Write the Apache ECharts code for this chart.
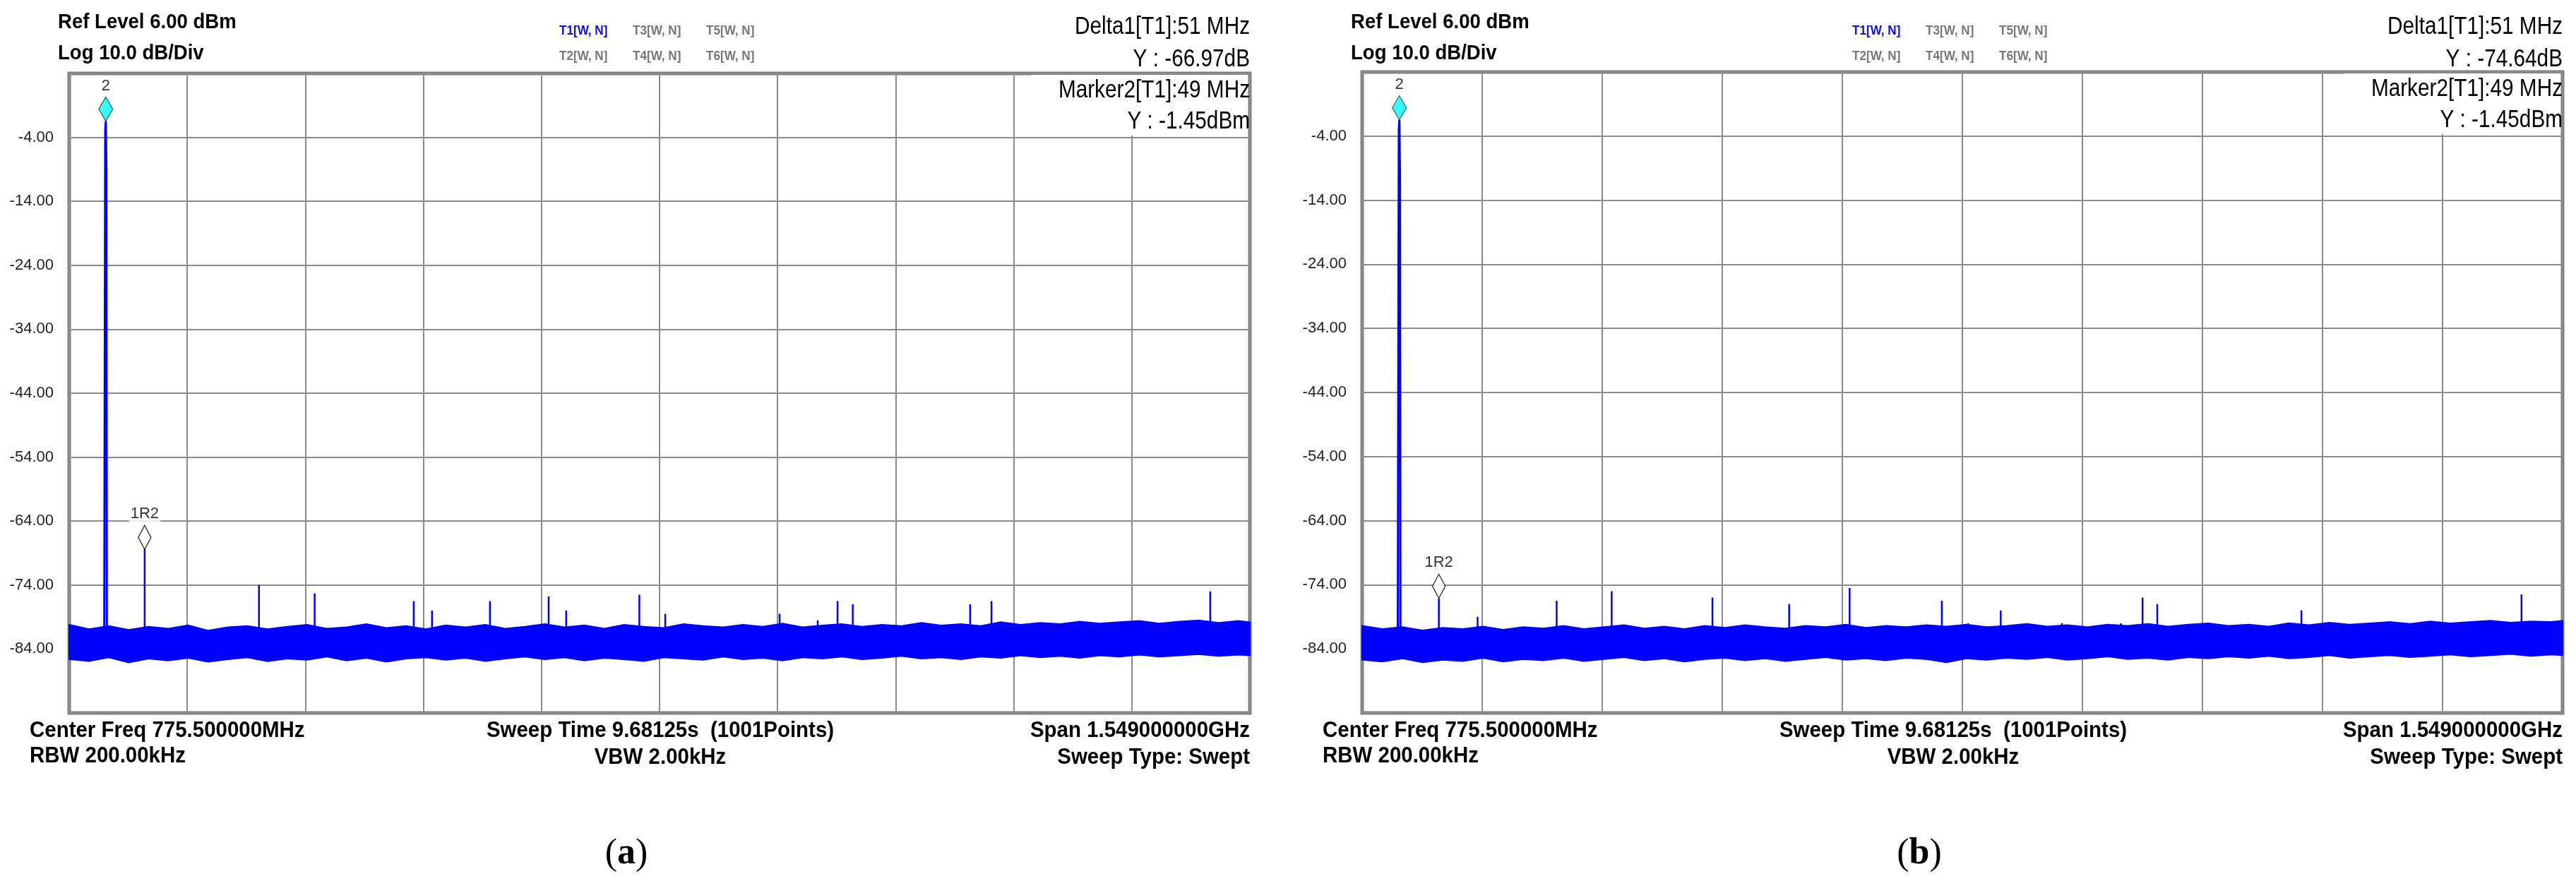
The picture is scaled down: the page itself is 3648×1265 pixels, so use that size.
<!DOCTYPE html>
<html><head><meta charset="utf-8">
<script src="https://cdn.jsdelivr.net/npm/echarts@6/dist/echarts.min.js"></script>
<style>html,body{margin:0;padding:0;background:#fff}#c{width:3648px;height:1265px}</style>
</head><body><div id="c"></div>
<script>
// ---- data (frequency in MHz, level in dBm) ----
const fStart = 1, fStop = 1550;
const yTicks = [-4, -14, -24, -34, -44, -54, -64, -74, -84];
const peakA = [[47, -82], [47.6, -43.3], [48.3, -3], [49, -1.45], [49.8, -8.6], [50.4, -82]];
const peakB = [[47, -82], [47.6, -43.5], [48.3, -3], [49, -1.45], [49.8, -9.5], [50.4, -82]];
const marker2 = [49, -1.45];
const marker1A = [100, -68.42];
const marker1B = [100, -76.09];
const spursA = [[100, -68.4], [151, -81], [202, -81.5], [250, -74], [323, -75.3], [453, -76.5], [477, -78], [553, -76.5], [630, -75.8], [653, -78], [749, -75.5], [783, -78.5], [933, -78.5], [983, -79.5], [1009, -76.5], [1029, -77], [1183, -77], [1211, -76.5], [1498, -75]];
const spursB = [[100, -76.1], [150, -79], [252, -76.5], [323, -75], [453, -76], [552, -77], [630, -74.5], [749, -76.5], [783, -80], [825, -78], [904, -80], [980, -80], [1008, -76], [1027, -77], [1213, -78], [1497, -75.5]];
const noiseFreq = [1,27,53,79,105,131,157,183,209,235,261,287,313,339,365,391,417,443,469,495,521,547,573,599,625,651,677,703,729,755,781,807,833,859,885,911,937,963,989,1015,1041,1067,1093,1119,1145,1171,1197,1223,1249,1275,1301,1327,1353,1379,1405,1431,1457,1483,1509,1535,1550];
const noiseHiA = [-80.2,-80.9,-80.4,-81.0,-80.5,-80.8,-80.3,-81.1,-80.6,-80.4,-80.9,-80.5,-80.2,-80.8,-80.6,-80.1,-80.7,-80.4,-80.9,-80.3,-80.6,-80.2,-80.8,-80.5,-80.1,-80.6,-80.3,-80.8,-80.2,-80.5,-80.7,-80.1,-80.4,-80.6,-80.2,-80.5,-80.0,-80.6,-80.3,-80.1,-80.5,-80.2,-80.4,-79.9,-80.3,-80.1,-80.4,-79.8,-80.2,-79.9,-80.1,-79.7,-80.0,-79.8,-79.6,-80.0,-79.7,-79.5,-79.9,-79.6,-79.8];
const noiseLoA = [-85.6,-85.9,-85.3,-86.1,-85.5,-85.8,-85.4,-86.0,-85.6,-85.3,-85.9,-85.5,-85.7,-85.2,-85.8,-85.4,-86.0,-85.5,-85.3,-85.7,-85.4,-85.9,-85.5,-85.2,-85.6,-85.3,-85.8,-85.4,-85.6,-85.9,-85.3,-85.5,-85.7,-85.2,-85.6,-85.4,-85.8,-85.3,-85.5,-85.2,-85.6,-85.4,-85.1,-85.5,-85.3,-85.6,-85.2,-85.4,-85.0,-85.3,-85.1,-85.4,-85.0,-85.2,-84.9,-85.2,-85.0,-84.8,-85.1,-84.9,-85.0];
const noiseHiB = [-80.4,-80.9,-80.6,-81.1,-80.7,-80.9,-80.5,-81.0,-80.6,-80.8,-80.4,-80.9,-80.6,-80.3,-80.8,-80.5,-80.9,-80.4,-80.7,-80.3,-80.6,-80.8,-80.4,-80.6,-80.2,-80.7,-80.4,-80.6,-80.3,-80.5,-80.2,-80.6,-80.4,-80.1,-80.5,-80.3,-80.6,-80.2,-80.4,-80.1,-80.5,-80.2,-80.0,-80.4,-80.2,-80.5,-80.0,-80.3,-79.9,-80.2,-80.0,-79.8,-80.1,-79.7,-80.0,-79.8,-79.6,-79.9,-79.7,-79.8,-79.6];
const noiseLoB = [-85.7,-86.0,-85.5,-86.1,-85.7,-85.9,-85.4,-86.0,-85.6,-85.8,-85.4,-85.9,-85.6,-85.3,-85.8,-85.5,-86.0,-85.6,-85.4,-85.8,-85.5,-85.9,-85.6,-85.3,-85.7,-85.5,-85.8,-85.4,-85.6,-86.1,-85.5,-85.7,-85.4,-85.6,-85.3,-85.7,-85.5,-85.2,-85.6,-85.4,-85.7,-85.3,-85.5,-85.2,-85.4,-85.1,-85.5,-85.3,-85.0,-85.4,-85.2,-85.0,-85.3,-85.1,-84.9,-85.2,-85.0,-84.8,-85.1,-84.9,-85.0];
const texts = {
  ref: 'Ref Level 6.00 dBm', log: 'Log 10.0 dB/Div',
  deltaA: 'Delta1[T1]:51 MHz', deltaYA: 'Y : -66.97dB',
  deltaB: 'Delta1[T1]:51 MHz', deltaYB: 'Y : -74.64dB',
  mk: 'Marker2[T1]:49 MHz', mkY: 'Y : -1.45dBm',
  cf: 'Center Freq 775.500000MHz', rbw: 'RBW 200.00kHz',
  sweep: 'Sweep Time 9.68125s  (1001Points)', vbw: 'VBW 2.00kHz',
  span: 'Span 1.549000000GHz', stype: 'Sweep Type: Swept'
};
const traceRow1 = ['T1[W, N]', 'T3[W, N]', 'T5[W, N]'];
const traceRow2 = ['T2[W, N]', 'T4[W, N]', 'T6[W, N]'];
const panelLabels = ['a', 'b'];

// ---- mapping helpers ----
const yMin = -94, yMax = 6;
const X = f => f - fStart;
const Y = v => v - yMin;
const pt = p => [X(p[0]), Y(p[1])];

const chart = echarts.init(document.getElementById('c'), null, {renderer: 'canvas'});
const FONT = "'Liberation Sans',Arial,sans-serif";
const BLUE = '#0000ff';

const grids = [
  {left: 98, top: 104, width: 1672, height: 906},
  {left: 1929, top: 102, width: 1700, height: 908}
];
const dx = 1831;

function axes(i) {
  return {
    x: {type: 'value', gridIndex: i, min: 0, max: fStop - fStart, interval: (fStop - fStart) / 10,
      axisLine: {show: false}, axisTick: {show: false}, axisLabel: {show: false},
      splitLine: {show: true, lineStyle: {color: '#8c8c8c', width: 2}}},
    y: {type: 'value', gridIndex: i, min: 0, max: yMax - yMin, interval: 10,
      axisLine: {show: false}, axisTick: {show: false},
      axisLabel: {margin: 22, fontSize: 22, color: '#222', fontFamily: FONT,
        formatter: v => { const d = v + yMin; return yTicks.includes(d) ? d.toFixed(2) : ''; }},
      splitLine: {show: true, lineStyle: {color: '#8c8c8c', width: 2}}}
  };
}
const a0 = axes(0), a1 = axes(1);

function spurData(sp) {
  const out = [];
  sp.forEach(s => { out.push(pt([s[0], -81])); out.push(pt(s)); out.push(pt([s[0], -81])); out.push('-'); });
  return out;
}
function panelSeries(i, peak, spurs, m1) {
  return [
    {type: 'line', xAxisIndex: i, yAxisIndex: i, symbol: 'none', connectNulls: false,
      data: spurData(spurs), lineStyle: {width: 2.5, color: BLUE}},
    {type: 'line', xAxisIndex: i, yAxisIndex: i, symbol: 'none',
      data: peak.map(pt), lineStyle: {width: 3, color: BLUE}},
    {type: 'scatter', xAxisIndex: i, yAxisIndex: i, symbol: 'diamond', symbolSize: [20, 34], symbolOffset: [0, -17],
      data: [pt(marker2)], itemStyle: {color: '#00ffff', borderColor: '#000', borderWidth: 1}, z: 10,
      label: {show: true, position: 'top', formatter: '2', fontSize: 22, color: '#000', fontFamily: FONT, distance: 4}},
    {type: 'scatter', xAxisIndex: i, yAxisIndex: i, symbol: 'diamond', symbolSize: [18, 34], symbolOffset: [0, -17],
      data: [pt(m1)], itemStyle: {color: '#fff', borderColor: '#000', borderWidth: 1.5}, z: 10,
      label: {show: true, position: 'top', formatter: '1R2', fontSize: 22, color: '#000', fontFamily: FONT, distance: 4,
        backgroundColor: '#fff', padding: [0, 2]}}
  ];
}

function txt(x, y, s, size, align, extra, sx) {
  return {type: 'text', x, y, z: 100, scaleX: sx || 1, style: Object.assign({text: s, fontSize: size, fontFamily: FONT,
    fill: '#000', textAlign: align || 'left', textVerticalAlign: 'middle', fontWeight: 'bold'}, extra || {})};
}
function panelGraphics(o, dy, dText, dYText, label, gridRight) {
  const g = [];
  g.push(txt(82 + o, 32, texts.ref, 29, 'left', {}, 0.95));
  g.push(txt(82 + o, 76, texts.log, 29, 'left', {}, 0.95));
  const tx = [792, 896, 1000];
  traceRow1.forEach((t, k) => g.push(txt(tx[k] + o, 44, t, 19, 'left', {fill: k === 0 ? '#1010e0' : '#777'}, 0.9)));
  traceRow2.forEach((t, k) => g.push(txt(tx[k] + o, 80, t, 19, 'left', {fill: '#777'}, 0.9)));
  g.push(txt(gridRight, 38, dText, 35, 'right', {fontWeight: 'normal'}, 0.85));
  g.push(txt(gridRight, 84, dYText, 35, 'right', {fontWeight: 'normal'}, 0.85));
  g.push({type: 'rect', z: 90, shape: {x: gridRight - 310, y: 106 + dy, width: 307, height: 86}, style: {fill: '#fff'}});
  g.push(txt(gridRight, 128 + dy, texts.mk, 35, 'right', {fontWeight: 'normal'}, 0.85));
  g.push(txt(gridRight, 172 + dy, texts.mkY, 35, 'right', {fontWeight: 'normal'}, 0.85));
  g.push(txt(42 + o, 1035, texts.cf, 31, 'left', {}, 0.95));
  g.push(txt(42 + o, 1071, texts.rbw, 31, 'left', {}, 0.95));
  g.push(txt(935 + o, 1035, texts.sweep, 31, 'center', {}, 0.95));
  g.push(txt(935 + o, 1073, texts.vbw, 31, 'center', {}, 0.95));
  g.push(txt(gridRight, 1035, texts.span, 31, 'right', {}, 0.95));
  g.push(txt(gridRight, 1073, texts.stype, 31, 'right', {}, 0.95));
  g.push({type: 'text', x: 887 + o, y: 1210, z: 100, style: {text: '({b|' + label + '})', textAlign: 'center', textVerticalAlign: 'middle',
    fontSize: 52, fontFamily: "'Liberation Serif', serif", fill: '#000',
    rich: {b: {fontWeight: 'bold', fontSize: 52, fontFamily: "'Liberation Serif', serif"}}}});
  return g;
}

chart.setOption({
  animation: false,
  backgroundColor: '#fff',
  grid: grids.map(g => Object.assign({show: true, borderColor: '#7f7f7f', borderWidth: 5, backgroundColor: 'transparent'}, g)),
  xAxis: [a0.x, a1.x],
  yAxis: [a0.y, a1.y],
  series: [].concat(
    panelSeries(0, peakA, spursA, marker1A),
    panelSeries(1, peakB, spursB, marker1B)
  ),
  graphic: [].concat(
    panelGraphics(0, 0, texts.deltaA, texts.deltaYA, panelLabels[0], 1770),
    panelGraphics(dx, -2, texts.deltaB, texts.deltaYB, panelLabels[1], 3629)
  )
});

// noise band polygons, positioned through the chart's own scales
function band(i, hi, lo) {
  const pts = [];
  noiseFreq.forEach((f, k) => pts.push(chart.convertToPixel({gridIndex: i}, pt([f, hi[k]]))));
  for (let k = noiseFreq.length - 1; k >= 0; k--) pts.push(chart.convertToPixel({gridIndex: i}, pt([noiseFreq[k], lo[k]])));
  return {type: 'polygon', z: 5, shape: {points: pts}, style: {fill: BLUE, stroke: BLUE, lineWidth: 2}};
}
const opt = chart.getOption();
chart.setOption({graphic: opt.graphic[0].elements.map(() => ({})).concat([band(0, noiseHiA, noiseLoA), band(1, noiseHiB, noiseLoB)])});
</script></body></html>
